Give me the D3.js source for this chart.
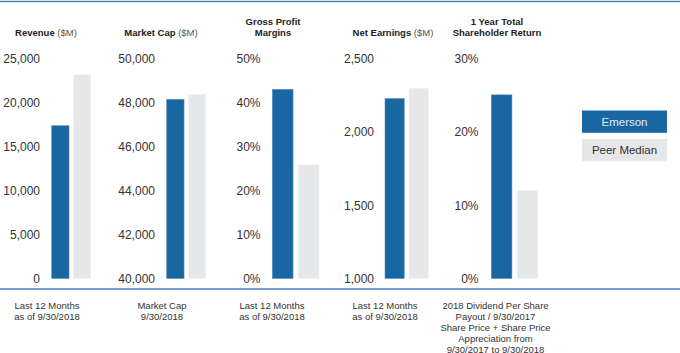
<!DOCTYPE html>
<html>
<head>
<meta charset="utf-8">
<script src="https://cdn.jsdelivr.net/npm/d3@7"></script>
<style>
  body { margin: 0; background: #fff; }
  svg { display: block; font-family: Arial, "Liberation Sans", sans-serif; }
</style>
</head>
<body>
<div id="chart"></div>
<script>
// data
const series = ["Emerson", "Peer Median"];
const emerson = [17400, 48160, 43.1, 2230, 25.1];
const peer = [23200, 48390, 25.9, 2300, 12.05];
const domains = [[0, 25000], [40000, 50000], [0, 50], [1000, 2500], [0, 30]];
const ticks = [
    [0, 5000, 10000, 15000, 20000, 25000],
    [40000, 42000, 44000, 46000, 48000, 50000],
    [0, 10, 20, 30, 40, 50],
    [1000, 1500, 2000, 2500],
    [0, 10, 20, 30]
];
const isPct = [false, false, true, false, true];
const titleBold = [["Revenue"], ["Market Cap"], ["Gross Profit", "Margins"], ["Net Earnings"], ["1 Year Total", "Shareholder Return"]];
const titleUnit = [" ($M)", " ($M)", "", " ($M)", ""];
const notes = [
    ["Last 12 Months", "as of 9/30/2018"],
    ["Market Cap", "9/30/2018"],
    ["Last 12 Months", "as of 9/30/2018"],
    ["Last 12 Months", "as of 9/30/2018"],
    ["2018 Dividend Per Share", "Payout / 9/30/2017", "Share Price + Share Price", "Appreciation from", "9/30/2017 to 9/30/2018"]
];

const colors = { "Emerson": "#1866a2", "Peer Median": "#e6e7e9" };

// layout per panel
const axisX = [40, 155, 260.5, 374, 478.5];
const barRange = [[51.7, 90.7], [166.7, 205.7], [272.3, 319], [385, 428.3], [491.3, 537.7]];
const titleX = [46, 161, 273, 393, 497];
const noteX = [47, 162, 272, 385, 495.5];

const width = 680, height = 353;
const svg = d3.select("#chart").append("svg")
    .attr("width", width)
    .attr("height", height);

// top and bottom rules
svg.append("line").attr("x1", 0).attr("x2", width).attr("y1", 1.5).attr("y2", 1.5)
    .attr("stroke", "#4a82ba").attr("stroke-width", 1.5);
svg.append("line").attr("x1", 0).attr("x2", width).attr("y1", 289).attr("y2", 289)
    .attr("stroke", "#4a82ba").attr("stroke-width", 1.5);

emerson.forEach((ev, i) => {
    const y = d3.scaleLinear().domain(domains[i]).range([278.5, 59]);
    const x = d3.scaleBand().domain(series).range(barRange[i]).paddingInner(0.2);
    const g = svg.append("g");
    const fmt = isPct[i] ? (d => d + "%") : d3.format(",");

    // axis labels
    g.selectAll(".tick-label")
        .data(ticks[i])
        .enter()
        .append("text")
        .attr("x", axisX[i])
        .attr("y", d => y(d))
        .attr("dy", "0.35em")
        .attr("text-anchor", "end")
        .attr("font-size", 12)
        .attr("fill", "#333")
        .text(fmt);

    // bars
    const vals = [{ s: "Emerson", v: ev }, { s: "Peer Median", v: peer[i] }];
    g.selectAll("rect")
        .data(vals)
        .enter()
        .append("rect")
        .attr("x", d => x(d.s))
        .attr("width", x.bandwidth())
        .attr("y", d => y(d.v))
        .attr("height", d => y(domains[i][0]) - y(d.v))
        .attr("fill", d => colors[d.s])
        .attr("stroke", d => d.s === "Emerson" ? "#5a90c2" : "#f2f2f3")
        .attr("stroke-width", 0.6);

    // title
    const lines = titleBold[i];
    const t = g.append("text")
        .attr("text-anchor", "middle")
        .attr("font-size", 9.5)
        .attr("fill", "#222");
    lines.forEach((ln, j) => {
        const baseY = lines.length === 1 ? 35.5 : 24.5 + j * 11.5;
        const ts = t.append("tspan")
            .attr("x", titleX[i])
            .attr("y", baseY)
            .attr("font-weight", "bold")
            .text(ln);
        if (j === lines.length - 1 && titleUnit[i]) {
            t.append("tspan").attr("font-weight", "normal").attr("fill", "#555").text(titleUnit[i]);
        }
    });

    // footnote
    g.append("text")
        .attr("text-anchor", "middle")
        .attr("font-size", 9.5)
        .attr("fill", "#333")
        .selectAll("tspan")
        .data(notes[i])
        .enter()
        .append("tspan")
        .attr("x", noteX[i])
        .attr("y", (d, j) => 308.5 + j * 11)
        .text(d => d);
});

// legend
const legend = svg.append("g").attr("transform", "translate(582,110.5)");
series.forEach((s, i) => {
    const row = legend.append("g").attr("transform", `translate(0,${i * 28.5})`);
    row.append("rect")
        .attr("width", 85)
        .attr("height", 22.3)
        .attr("fill", colors[s]);
    row.append("text")
        .attr("x", 42.5)
        .attr("y", 11.2)
        .attr("dy", "0.35em")
        .attr("text-anchor", "middle")
        .attr("font-size", 11.5)
        .attr("fill", s === "Emerson" ? "#e3ebf4" : "#333")
        .text(s);
});
</script>
</body>
</html>
